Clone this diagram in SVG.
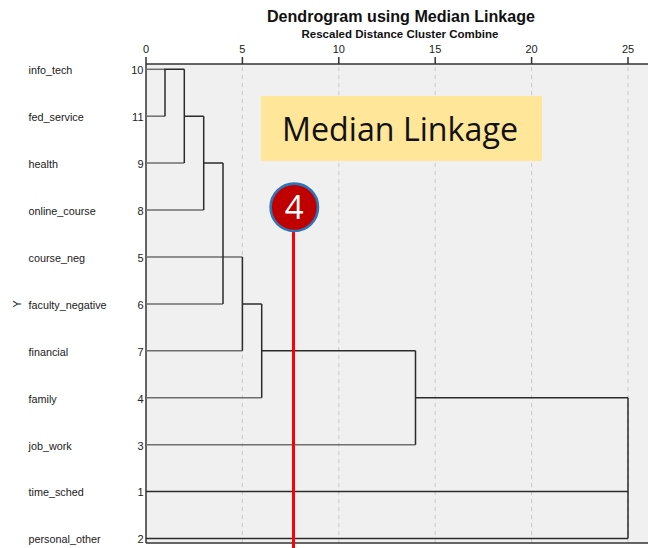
<svg xmlns="http://www.w3.org/2000/svg" width="648" height="548" viewBox="0 0 648 548">
  <style>
    .title { font-family: "Liberation Sans", Arial, sans-serif; font-weight: bold; fill: #111; }
    .tick { font-family: "Liberation Sans", Arial, sans-serif; font-size: 11px; fill: #222; text-anchor: middle; }
    .lbl { font-family: "Liberation Sans", Arial, sans-serif; font-size: 10.8px; fill: #1a1a1a; }
    .num { font-family: "Liberation Sans", Arial, sans-serif; font-size: 11px; fill: #222; text-anchor: end; }
    .grid { stroke: #cfcfcf; stroke-width: 1.2; stroke-dasharray: 4 4; fill: none; }
    .leaf { stroke: #6e6e6e; stroke-width: 1.5; fill: none; }
    .link { stroke: #2b2b2b; stroke-width: 1.5; fill: none; }
    .axis { stroke: #333; stroke-width: 1.5; fill: none; }
  </style>

  <rect x="0" y="0" width="648" height="548" fill="#ffffff"/>

  <!-- titles -->
  <text class="title" x="401" y="22" font-size="16" text-anchor="middle" textLength="268" lengthAdjust="spacingAndGlyphs">Dendrogram using Median Linkage</text>
  <text class="title" x="400" y="37.5" font-size="10" text-anchor="middle" textLength="197" lengthAdjust="spacingAndGlyphs">Rescaled Distance Cluster Combine</text>

  <!-- plot area -->
  <rect x="146" y="64" width="502" height="479" fill="#f0f0f0"/>

  <!-- gridlines -->
  <g id="grid">
    <line class="grid" x1="242.4" y1="67" x2="242.4" y2="542"/>
    <line class="grid" x1="338.8" y1="67" x2="338.8" y2="542"/>
    <line class="grid" x1="435.2" y1="67" x2="435.2" y2="542"/>
    <line class="grid" x1="531.6" y1="67" x2="531.6" y2="542"/>
    <line class="grid" x1="628" y1="67" x2="628" y2="542"/>
  </g>

  <!-- axis with ticks -->
  <g id="axis">
    <line class="axis" x1="146" y1="64" x2="648" y2="64"/>
    <line class="axis" x1="146" y1="64" x2="146" y2="543"/>
    <line class="axis" x1="146" y1="543" x2="648" y2="543"/>
    <line class="axis" x1="146" y1="57" x2="146" y2="64"/>
    <line class="axis" x1="242.4" y1="57" x2="242.4" y2="64"/>
    <line class="axis" x1="338.8" y1="57" x2="338.8" y2="64"/>
    <line class="axis" x1="435.2" y1="57" x2="435.2" y2="64"/>
    <line class="axis" x1="531.6" y1="57" x2="531.6" y2="64"/>
    <line class="axis" x1="628" y1="57" x2="628" y2="64"/>
    <text class="tick" x="146" y="53">0</text>
    <text class="tick" x="242.4" y="53">5</text>
    <text class="tick" x="338.8" y="53">10</text>
    <text class="tick" x="435.2" y="53">15</text>
    <text class="tick" x="531.6" y="53">20</text>
    <text class="tick" x="628" y="53">25</text>
  </g>

  <!-- case labels -->
  <g id="case-labels">
    <text class="lbl" x="28.5" y="73.5">info_tech</text>
    <text class="lbl" x="28.5" y="120.5">fed_service</text>
    <text class="lbl" x="28.5" y="167.5">health</text>
    <text class="lbl" x="28.5" y="214.5">online_course</text>
    <text class="lbl" x="28.5" y="261.5">course_neg</text>
    <text class="lbl" x="28.5" y="308.5">faculty_negative</text>
    <text class="lbl" x="28.5" y="355.5">financial</text>
    <text class="lbl" x="28.5" y="402.5">family</text>
    <text class="lbl" x="28.5" y="449.5">job_work</text>
    <text class="lbl" x="28.5" y="496">time_sched</text>
    <text class="lbl" x="28.5" y="543">personal_other</text>
    <text class="num" x="143.5" y="73.5">10</text>
    <text class="num" x="143.5" y="120.5">11</text>
    <text class="num" x="143.5" y="167.5">9</text>
    <text class="num" x="143.5" y="214.5">8</text>
    <text class="num" x="143.5" y="261.5">5</text>
    <text class="num" x="143.5" y="308.5">6</text>
    <text class="num" x="143.5" y="355.5">7</text>
    <text class="num" x="143.5" y="402.5">4</text>
    <text class="num" x="143.5" y="449.5">3</text>
    <text class="num" x="143.5" y="496">1</text>
    <text class="num" x="143.5" y="543">2</text>
    <text class="lbl" x="0" y="0" transform="translate(21 304) rotate(-90)" text-anchor="middle">Y</text>
  </g>

  <!-- dendrogram branches -->
  <g id="connectors">
    <!-- leaf stems -->
    <line class="leaf" x1="146" y1="69.3" x2="165" y2="69.3"/>
    <line class="leaf" x1="146" y1="116.2" x2="165" y2="116.2"/>
    <line class="leaf" x1="146" y1="163.1" x2="184.3" y2="163.1"/>
    <line class="leaf" x1="146" y1="210.1" x2="203.7" y2="210.1"/>
    <line class="leaf" x1="146" y1="257" x2="242.4" y2="257"/>
    <line class="leaf" x1="146" y1="303.9" x2="223" y2="303.9"/>
    <line class="leaf" x1="146" y1="350.8" x2="242.4" y2="350.8"/>
    <line class="leaf" x1="146" y1="397.8" x2="261.7" y2="397.8"/>
    <line class="leaf" x1="146" y1="444.7" x2="415.5" y2="444.7"/>
    <line class="link" x1="146" y1="491.6" x2="628" y2="491.6"/>
    <line class="link" x1="146" y1="538.6" x2="628" y2="538.6"/>
    <!-- merges -->
    <path class="link" d="M165 116.2 V69.3 H184.3"/>
    <path class="link" d="M184.3 69.3 V163.1 M184.3 116.2 H203.7"/>
    <path class="link" d="M203.7 116.2 V210.1 M203.7 163.1 H223"/>
    <path class="link" d="M223 163.1 V303.9"/>
    <path class="link" d="M242.4 257 V350.8 M242.4 303.9 H261.7"/>
    <path class="link" d="M261.7 303.9 V397.8 M261.7 350.8 H415.5"/>
    <path class="link" d="M415.5 350.8 V444.7 M415.5 397.8 H628"/>
    <path class="link" d="M628 397.8 V538.6"/>
  </g>

  <!-- annotation box -->
  <g id="method-label">
    <rect x="261" y="96" width="281" height="65" fill="#ffe699"/>
    <text x="400" y="141" font-family="'Open Sans', 'Noto Sans', sans-serif" font-size="32" fill="#111" text-anchor="middle" textLength="236" lengthAdjust="spacingAndGlyphs">Median Linkage</text>
  </g>

  <!-- cut line with marker -->
  <g id="cut-marker">
    <line x1="293.5" y1="230" x2="293.5" y2="548" stroke="#ff0000" stroke-width="3"/>
    <circle cx="294.3" cy="207.3" r="23.7" fill="#c00000" stroke="#2e75b6" stroke-width="2.6"/>
    <text x="294.3" y="219" font-family="'Open Sans', 'Noto Sans', sans-serif" font-size="33" fill="#ffffff" text-anchor="middle">4</text>
  </g>
</svg>
